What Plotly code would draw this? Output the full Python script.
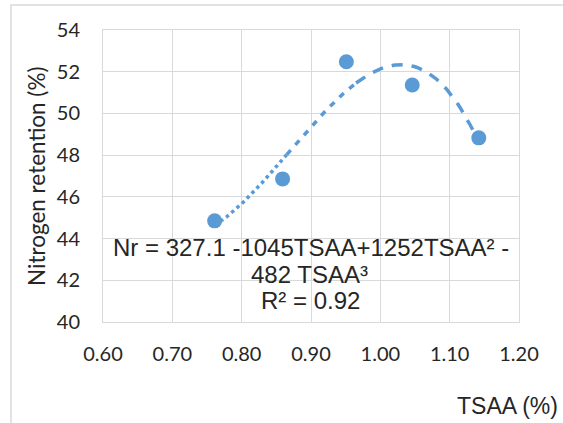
import numpy as np
import plotly.graph_objects as go

# Data
tsaa = [0.761, 0.859, 0.951, 1.046, 1.142]
nitrogen_retention = [44.85, 46.86, 52.48, 51.36, 48.83]
x_ticks = [0.6, 0.7, 0.8, 0.9, 1.0, 1.1, 1.2]
x_tick_labels = ["0.60", "0.70", "0.80", "0.90", "1.00", "1.10", "1.20"]
y_ticks = [40, 42, 44, 46, 48, 50, 52, 54]
equation_lines = ["Nr = 327.1 -1045TSAA+1252TSAA² -",
                  "482 TSAA³",
                  "R² = 0.92"]

BLUE = "#5B9BD5"
GRID = "#d9d9d9"

# cubic trendline (least squares fit of the data)
coef = np.polyfit(tsaa, nitrogen_retention, 3)
poly = np.poly1d(coef)

fig = go.Figure()

segments = [(min(tsaa), 0.865, "dot"), (0.865, 0.965, "6px,7px"), (0.965, max(tsaa), "11px,9px")]
for a, b, d in segments:
    xs = np.linspace(a, b, 60)
    fig.add_trace(go.Scatter(x=xs, y=poly(xs), mode="lines",
                             line=dict(color=BLUE, width=3.5, dash=d),
                             hoverinfo="skip", showlegend=False))

fig.add_trace(go.Scatter(x=tsaa, y=nitrogen_retention, mode="markers",
                         marker=dict(color=BLUE, size=15),
                         showlegend=False))

W, H = 563, 423
L, R, T, B = 103, 44, 30, 101
pw, ph = W - L - R, H - T - B

def px_x(p):
    return (p - L) / pw

def px_y(p):
    return (H - B - p) / ph

fig.update_layout(
    width=W, height=H,
    margin=dict(l=L, r=R, t=T, b=B),
    paper_bgcolor="white", plot_bgcolor="white",
    xaxis=dict(range=[0.6, 1.2], tickvals=x_ticks, ticktext=x_tick_labels,
               showgrid=True, gridcolor=GRID, gridwidth=1,
               showline=True, linecolor=GRID, linewidth=1, mirror=True,
               zeroline=False, ticks="outside", ticklen=0, tickcolor="rgba(0,0,0,0)",
               ticklabelstandoff=14,
               tickfont=dict(family="Lato", size=20, color="#262626")),
    yaxis=dict(range=[40, 54], tickvals=y_ticks,
               showgrid=True, gridcolor=GRID, gridwidth=1,
               showline=True, linecolor=GRID, linewidth=1, mirror=True,
               zeroline=False, ticks="outside", ticklen=0, tickcolor="rgba(0,0,0,0)",
               ticklabelstandoff=18,
               tickfont=dict(family="Lato", size=20, color="#262626")),
    shapes=[dict(type="rect", xref="paper", yref="paper",
                 x0=px_x(11), x1=px_x(600), y0=px_y(460), y1=px_y(5),
                 line=dict(color=GRID, width=1.5), fillcolor="rgba(0,0,0,0)", layer="below")],
    annotations=[
        dict(text="Nitrogen retention (%)", xref="paper", yref="paper",
             x=px_x(36), y=px_y(177), textangle=-90, showarrow=False,
             xanchor="center", yanchor="middle",
             font=dict(family="Lato", size=22.5, color="#262626")),
        dict(text="TSAA (%)", xref="paper", yref="paper",
             x=px_x(560), y=px_y(406), showarrow=False,
             xanchor="right", yanchor="middle",
             font=dict(family="Liberation Sans", size=23, color="#262626")),
    ] + [
        dict(text=t, xref="paper", yref="paper", x=px_x(cx), y=px_y(cy),
             showarrow=False, xanchor="center", yanchor="middle",
             font=dict(family="Liberation Sans", size=24, color="#262626"))
        for t, cx, cy in zip(equation_lines, [311, 309, 310], [247, 274, 300])
    ],
)

fig.write_html("out.html")
